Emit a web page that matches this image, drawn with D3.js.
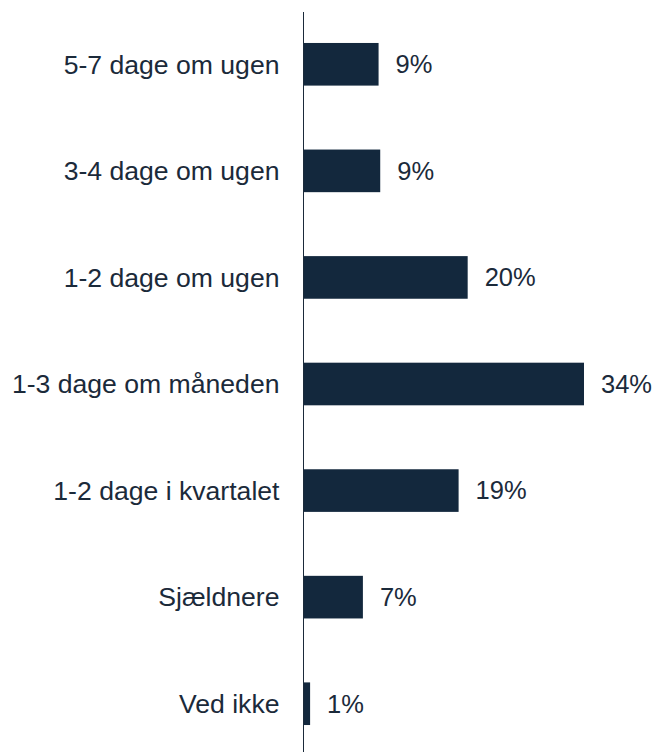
<!DOCTYPE html>
<html>
<head>
<meta charset="utf-8">
<script src="https://cdn.jsdelivr.net/npm/d3@7"></script>
<style>
  body { margin: 0; background: #fff; }
  text { font-family: "Liberation Sans", Arial, sans-serif; fill: #1b2a3a; }
</style>
</head>
<body>
<script>
// categories and shares (%)
const categories = ["5-7 dage om ugen", "3-4 dage om ugen", "1-2 dage om ugen", "1-3 dage om måneden", "1-2 dage i kvartalet", "Sjældnere", "Ved ikke"];
const shares = [9.1, 9.3, 19.9, 34, 18.8, 7.2, 0.8];

const width = 657;
const height = 752;
const axis_x = 303.5;

const data = categories.map((c, i) => ({ label: c, value: shares[i] }));

const svg = d3.select("body").append("svg")
    .attr("width", width)
    .attr("height", height);

const x = d3.scaleLinear().domain([0, 34]).range([axis_x, 584]);
const y = d3.scaleBand()
    .domain(categories)
    .range([11, 757])
    .paddingInner(0.6)
    .paddingOuter(0.3);

// bars
svg.selectAll(".bar")
    .data(data)
    .enter()
    .append("rect")
    .attr("class", "bar")
    .attr("x", x(0))
    .attr("y", (d) => y(d.label))
    .attr("width", (d) => x(d.value) - x(0))
    .attr("height", y.bandwidth())
    .attr("fill", "#13283d");

// vertical axis line
svg.append("line")
    .attr("x1", axis_x)
    .attr("x2", axis_x)
    .attr("y1", 12)
    .attr("y2", height)
    .attr("stroke", "#1b2a3a")
    .attr("stroke-width", 1);

// category labels
svg.selectAll(".cat")
    .data(data)
    .enter()
    .append("text")
    .attr("class", "cat")
    .attr("x", axis_x - 24)
    .attr("y", (d) => y(d.label) + y.bandwidth() / 2)
    .attr("dy", "0.35em")
    .attr("text-anchor", "end")
    .attr("font-size", 26.6)
    .text((d) => d.label);

// value labels
svg.selectAll(".val")
    .data(data)
    .enter()
    .append("text")
    .attr("class", "val")
    .attr("x", (d) => x(d.value) + 17)
    .attr("y", (d) => y(d.label) + y.bandwidth() / 2)
    .attr("dy", "0.35em")
    .attr("font-size", 25.5)
    .text((d) => Math.round(d.value) + "%");
</script>
</body>
</html>
